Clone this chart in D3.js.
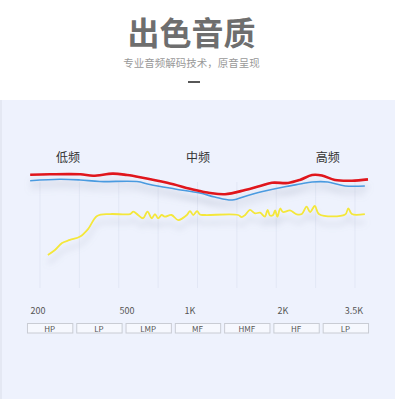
<!DOCTYPE html>
<html>
<head>
<meta charset="utf-8">
<script src="https://cdn.jsdelivr.net/npm/d3@7"></script>
<style>
  html, body { margin: 0; padding: 0; background: #fff; }
  svg { display: block; font-family: "Noto Sans CJK SC", "Noto Sans", sans-serif; }
</style>
</head>
<body>
<div id="chart"></div>
<script>
// x in grid units (9 gridlines, 0..8), y in relative level 0..100
var redX = [-0.25, 0.25, 1.02, 1.35, 1.85, 2.21, 2.54, 3.23, 3.94, 4.32, 4.70, 5.21, 5.59, 5.89, 6.30, 6.60, 6.91, 7.16, 7.49, 7.92, 8.33];
var redY = [96, 96.4, 96.4, 95.2, 97, 95.8, 94, 89.4, 83.3, 80.8, 79.8, 83.3, 86.7, 89.4, 89.2, 91.7, 95.8, 95.4, 91.7, 91.1, 92.2];

var blueX = [-0.25, 0.51, 1.02, 1.52, 2.46, 2.79, 3.43, 4.06, 4.44, 4.88, 5.28, 5.71, 6.22, 6.60, 6.91, 7.31, 7.75, 8.25];
var blueY = [91.1, 92.3, 91.7, 90.4, 90.4, 87.9, 84.2, 80.8, 77.5, 75, 78.8, 82.5, 86.1, 88.3, 90, 90, 86.7, 86.7];

var yellowX = [0.20, 0.38, 0.56, 0.76, 1.02, 1.22, 1.45, 1.78, 2.29, 2.37, 2.49, 2.62, 2.73, 2.84, 2.92, 3.00, 3.09, 3.17, 3.34, 3.51, 3.73, 3.81, 3.89, 3.99, 4.06, 4.19, 5.03, 5.12, 5.21, 5.33, 5.46, 5.59, 5.71, 5.78, 5.84, 5.92, 5.97, 6.03, 6.10, 6.17, 6.35, 6.52, 6.65, 6.77, 6.86, 6.98, 7.09, 7.75, 7.83, 7.92, 8.25];
var yellowY = [29.2, 33.3, 39.2, 41.7, 44.6, 50.8, 61.7, 63.3, 63.3, 65.3, 62.5, 59.8, 65.3, 59.8, 63.3, 59.8, 62.5, 61.1, 62.5, 58.3, 62.5, 65.8, 62.5, 65.8, 62.9, 62.5, 62.5, 60.8, 62.5, 66.7, 63.9, 64.4, 61.1, 66.7, 62.1, 62.5, 66.3, 61.1, 67.9, 65, 66.3, 63.1, 63.3, 69.4, 65, 70, 63.1, 62.9, 68.1, 63.3, 63.3];

var gridValues = [0, 1, 2, 3, 4, 5, 6, 7, 8];
var bandNames = ["低频", "中频", "高频"];
var bandPos = [0.71, 4.01, 7.31];
var tickLabels = ["200", "500", "1K", "2K", "3.5K"];
var tickValues = [-0.05, 2.21, 3.81, 6.17, 7.97];
var filterNames = ["HP", "LP", "LMP", "MF", "HMF", "HF", "LP"];

var W = 395, H = 400;

var svg = d3.select("#chart").append("svg")
	.attr("width", W)
	.attr("height", H);

var defs = svg.append("defs");
var f = defs.append("filter").attr("id", "shadow")
	.attr("x", "-10%").attr("y", "-50%").attr("width", "120%").attr("height", "300%");
f.append("feDropShadow")
	.attr("dx", 0).attr("dy", 8)
	.attr("stdDeviation", 3)
	.attr("flood-color", "#8a93a8")
	.attr("flood-opacity", 0.35);

// header
svg.append("text")
	.attr("x", 191.5).attr("y", 31)
	.attr("text-anchor", "middle")
	.attr("dominant-baseline", "central")
	.style("font-size", "32px")
	.style("font-weight", "bold")
	.style("fill", "#6e6e6e")
	.text("出色音质");

svg.append("text")
	.attr("x", 191.5).attr("y", 62)
	.attr("text-anchor", "middle")
	.attr("dominant-baseline", "central")
	.style("font-size", "10.5px")
	.style("fill", "#999")
	.text("专业音频解码技术，原音呈现");

svg.append("line")
	.attr("x1", 188).attr("x2", 200)
	.attr("y1", 82).attr("y2", 82)
	.style("stroke", "#444")
	.style("stroke-width", 1.8);

// panel
svg.append("rect")
	.attr("x", 0).attr("y", 100)
	.attr("width", W).attr("height", 299)
	.style("fill", "#eef2fd");
svg.append("rect")
	.attr("x", 0).attr("y", 100)
	.attr("width", 2).attr("height", 299)
	.style("fill", "#e4e8f3");

var x = d3.scaleLinear().domain([0, 8]).range([40, 355]);
var y = d3.scaleLinear().domain([0, 100]).range([290, 170]);

// gridlines
svg.append("g").selectAll("line")
	.data(gridValues)
	.enter().append("line")
	.attr("x1", function(d) { return x(d); })
	.attr("x2", function(d) { return x(d); })
	.attr("y1", 182).attr("y2", 288)
	.style("stroke", "#e2e7f5")
	.style("stroke-width", 1);

// band labels
svg.append("g").selectAll("text")
	.data(bandNames)
	.enter().append("text")
	.attr("x", function(d, i) { return x(bandPos[i]); })
	.attr("y", 156)
	.attr("text-anchor", "middle")
	.attr("dominant-baseline", "central")
	.style("font-size", "12px")
	.style("fill", "#333")
	.text(function(d) { return d; });

function pts(xs, ys) {
	return xs.map(function(v, i) { return [v, ys[i]]; });
}

var line = d3.line()
	.x(function(d) { return x(d[0]); })
	.y(function(d) { return y(d[1]); })
	.curve(d3.curveCatmullRom.alpha(0.5));

var curves = svg.append("g").attr("filter", "url(#shadow)");

curves.append("path")
	.datum(pts(blueX, blueY))
	.attr("d", line)
	.style("fill", "none")
	.style("stroke", "#4a9be0")
	.style("stroke-width", 1.6);

curves.append("path")
	.datum(pts(redX, redY))
	.attr("d", line)
	.style("fill", "none")
	.style("stroke", "#e0141b")
	.style("stroke-width", 2.6);

svg.append("g").attr("filter", "url(#shadow)")
	.append("path")
	.datum(pts(yellowX, yellowY))
	.attr("d", line)
	.style("fill", "none")
	.style("stroke", "#f4e73a")
	.style("stroke-width", 1.8)
	.style("stroke-linejoin", "round");

// frequency ticks
svg.append("g").selectAll("text")
	.data(tickLabels)
	.enter().append("text")
	.attr("x", function(d, i) { return x(tickValues[i]); })
	.attr("y", 310)
	.attr("text-anchor", "middle")
	.attr("dominant-baseline", "central")
	.style("font-size", "9px")
	.style("fill", "#555")
	.text(function(d) { return d; });

// filter boxes
var band = d3.scaleBand()
	.domain(d3.range(filterNames.length))
	.range([25, 370])
	.paddingInner(0.08)
	.paddingOuter(0.04);

var boxes = svg.append("g").selectAll("g")
	.data(filterNames)
	.enter().append("g");

boxes.append("rect")
	.attr("x", function(d, i) { return band(i) + 0.5; })
	.attr("y", 323.5)
	.attr("width", band.bandwidth())
	.attr("height", 9.5)
	.style("fill", "#f6f8fe")
	.style("stroke", "#c9ccd4")
	.style("stroke-width", 1);

boxes.append("text")
	.attr("x", function(d, i) { return band(i) + band.bandwidth() / 2; })
	.attr("y", 328.5)
	.attr("text-anchor", "middle")
	.attr("dominant-baseline", "central")
	.style("font-size", "8px")
	.style("fill", "#555")
	.text(function(d) { return d; });
</script>
</body>
</html>
